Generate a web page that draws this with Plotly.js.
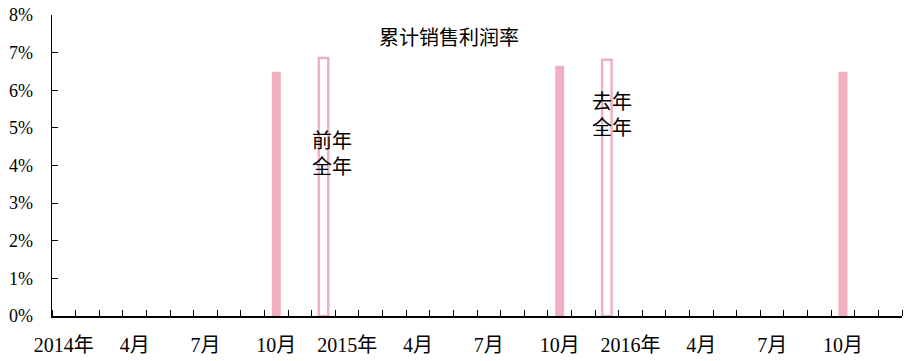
<!DOCTYPE html>
<html>
<head>
<meta charset="utf-8">
<script src="https://cdn.plot.ly/plotly-3.0.1.min.js"></script>
<style>html,body{margin:0;padding:0;background:#fff;}#chart{width:911px;height:361px;}</style>
</head>
<body>
<div id="chart"></div>
<script>
// Month categories Jan 2014 – Dec 2016
const monthLabels = [
  "2014年","2月","3月","4月","5月","6月","7月","8月","9月","10月","11月","12月",
  "2015年","2月","3月","4月","5月","6月","7月","8月","9月","10月","11月","12月",
  "2016年","2月","3月","4月","5月","6月","7月","8月","9月","10月","11月","12月"
];
// Labels shown on the axis (every quarter)
const shownLabels = ["2014年","4月","7月","10月","2015年","4月","7月","10月","2016年","4月","7月","10月"];
const shownIndex = [0,3,6,9,12,15,18,21,24,27,30,33];
// Cumulative sales profit margin (%), October of each year
const cumMargin = [
  null,null,null,null,null,null,null,null,null,6.49,null,null,
  null,null,null,null,null,null,null,null,null,6.65,null,null,
  null,null,null,null,null,null,null,null,null,6.49,null,null
];
// Full-year margin (%), December of previous years
const fullYear = [
  null,null,null,null,null,null,null,null,null,null,null,6.86,
  null,null,null,null,null,null,null,null,null,null,null,6.81,
  null,null,null,null,null,null,null,null,null,null,null,null
];
const xIdx = monthLabels.map((_, i) => i);

const pink = "#F0B0C0";
const fontFam = "Liberation Serif, Noto Sans CJK SC, serif";

const traces = [
  {type:"bar", x:xIdx, y:cumMargin, width:0.38, marker:{color:pink, line:{width:0}}, hoverinfo:"skip"},
  {type:"bar", x:xIdx, y:fullYear, width:0.40, marker:{color:"rgba(255,255,255,0)", line:{color:pink, width:2.5}}, hoverinfo:"skip"}
];

const layout = {
  width:911, height:361,
  margin:{l:52, r:9, t:15, b:45},
  paper_bgcolor:"#fff", plot_bgcolor:"#fff",
  barmode:"overlay", showlegend:false,
  font:{family:fontFam, size:20, color:"#000"},
  title:{text:"累计销售利润率", x:449/911, xref:"container", xanchor:"center", y:1-38/361, yref:"container", yanchor:"middle", font:{family:fontFam, size:20, color:"#000"}},
  xaxis:{
    range:[-0.5,35.5], showgrid:false, zeroline:false,
    showline:true, linecolor:"#000", linewidth:1.5,
    tickmode:"array", tickvals:shownIndex, ticktext:shownLabels,
    ticks:"", ticklabelstandoff:10,
    tickfont:{family:fontFam, size:20, color:"#000"},
    minor:{tickmode:"linear", tick0:-0.5, dtick:1, ticks:"inside", ticklen:6, tickwidth:1, tickcolor:"#000", showgrid:false}
  },
  yaxis:{
    range:[0,8], showgrid:false, zeroline:false,
    showline:true, linecolor:"#000", linewidth:1.5,
    tickmode:"linear", tick0:0, dtick:1, ticksuffix:"%",
    ticks:"inside", ticklen:6, tickwidth:1, tickcolor:"#000",
    ticklabelstandoff:14,
    tickfont:{family:fontFam, size:18, color:"#000"}
  },
  annotations:[
    {text:"前年<br>全年", x:11.36, y:4.3, xref:"x", yref:"y", showarrow:false, xanchor:"center", yanchor:"middle", font:{family:fontFam, size:20, color:"#000"}},
    {text:"去年<br>全年", x:23.22, y:5.35, xref:"x", yref:"y", showarrow:false, xanchor:"center", yanchor:"middle", font:{family:fontFam, size:20, color:"#000"}}
  ]
};

Plotly.newPlot("chart", traces, layout, {staticPlot:true, displayModeBar:false});
</script>
</body>
</html>
